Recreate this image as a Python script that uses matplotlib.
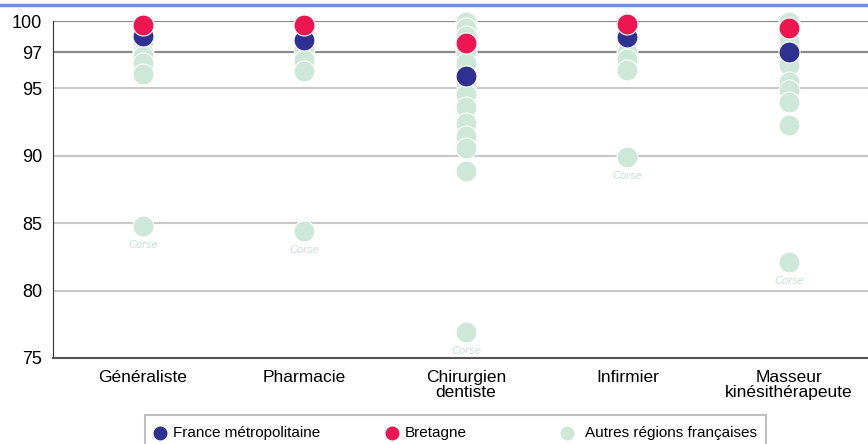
import matplotlib.pyplot as plt
from matplotlib.lines import Line2D
from matplotlib.patches import Rectangle

plt.rcParams['font.family'] = ['Liberation Sans', 'DejaVu Sans']

# données
categories = ['Généraliste', 'Pharmacie', 'Chirurgien\ndentiste', 'Infirmier',
              'Masseur\nkinésithérapeute']
france = [98.9, 98.6, 95.9, 98.8, 97.7]
bretagne = [99.7, 99.7, 98.4, 99.8, 99.5]
autres = [
    [98.4, 97.7, 97.4, 96.9, 96.1],
    [98.2, 97.9, 97.1, 96.3],
    [99.9, 99.5, 98.9, 97.7, 96.9, 95.4, 94.6, 93.6, 92.4, 91.5, 90.6, 88.9],
    [97.7, 97.2, 96.4],
    [99.95, 98.5, 96.7, 95.5, 94.9, 94.0, 92.3],
]
corse = [84.8, 84.4, 76.9, 89.9, 82.1]
yticks = [75, 80, 85, 90, 95, 97.7, 100]
ytick_labels = ['75', '80', '85', '90', '95', '97', '100']

c_france = '#2e3192'
c_bretagne = '#ed1651'
c_autres = '#cde8d8'

fig = plt.figure(figsize=(8.68, 4.44), dpi=100)
ax = fig.add_axes([0.0614, 0.1937, 0.9386, 0.759])
ax.set_xlim(-0.555, 4.489)
ax.set_ylim(75, 100)

# grille
for v in yticks[1:]:
    if v >= 97:
        ax.axhline(v, color='#8a8a8a', lw=1.6, zorder=0)
    else:
        ax.axhline(v, color='#c8c8c8', lw=1.5, zorder=0)

ms = 228
for i, vals in enumerate(autres):
    ax.scatter([i] * len(vals), vals, s=ms, color=c_autres, edgecolor='white',
               linewidth=0.8, zorder=2, clip_on=False)
ax.scatter(range(len(corse)), corse, s=ms, color=c_autres, edgecolor='white',
           linewidth=0.8, zorder=2, clip_on=False)
for i, v in enumerate(corse):
    ax.annotate('Corse', (i, v), xytext=(0, -13.5), textcoords='offset points',
                ha='center', va='center', fontsize=8, style='italic',
                color='#c6e4d0')
ax.scatter(range(len(france)), france, s=ms, color=c_france, edgecolor='white',
           linewidth=0.8, zorder=3, clip_on=False)
ax.scatter(range(len(bretagne)), bretagne, s=ms, color=c_bretagne,
           edgecolor='white', linewidth=0.8, zorder=4, clip_on=False)

ax.set_xticks(range(len(categories)))
ax.set_xticklabels(categories, fontsize=12.5, linespacing=1.0)
ax.set_yticks(yticks)
ax.set_yticklabels(ytick_labels, fontsize=13)
ax.tick_params(length=0)
ax.tick_params(axis='y', pad=8)
ax.tick_params(axis='x', pad=9)
for s in ['top', 'right']:
    ax.spines[s].set_visible(False)
ax.spines['left'].set_color('#333333')
ax.spines['bottom'].set_color('#555555')
ax.spines['bottom'].set_linewidth(1.5)

# trait bleu en haut
fig.add_artist(Line2D([0, 1], [1 - 5.5 / 444] * 2, transform=fig.transFigure,
                      color='#7092c8', lw=2.5))

# légende
W, H = 868, 444
fig.add_artist(Rectangle((145 / W, -0.05), 621 / W, (444 - 415) / H + 0.05,
                         transform=fig.transFigure, fill=False,
                         edgecolor='#c0c0c0', lw=1.5))
entries = [(160, 173, c_france, 'France métropolitaine'),
           (392, 405, c_bretagne, 'Bretagne'),
           (567, 585, c_autres, 'Autres régions françaises')]
yl = 1 - 433 / H
for mx, tx, col, lab in entries:
    fig.add_artist(Line2D([mx / W], [yl], transform=fig.transFigure,
                          marker='o', markersize=9, color=col, linestyle='none'))
    fig.text(tx / W, yl, lab, fontsize=11, va='center', ha='left')

fig.savefig('out.png', dpi=100)
